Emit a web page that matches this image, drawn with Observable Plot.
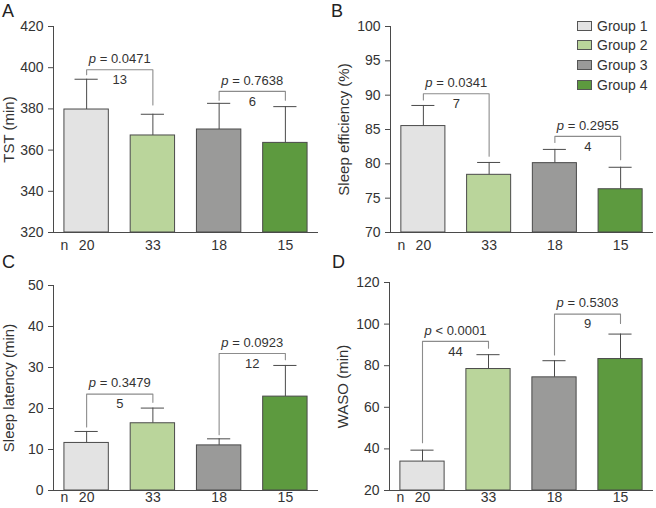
<!DOCTYPE html>
<html>
<head>
<meta charset="utf-8">
<script src="https://cdn.jsdelivr.net/npm/d3@7"></script>
<script src="https://cdn.jsdelivr.net/npm/@observablehq/plot@0.6"></script>
<style>
  html, body { margin: 0; padding: 0; background: #ffffff; }
  #chart { position: relative; width: 656px; height: 508px; font-family: "Liberation Sans", Arial, sans-serif; color: #333; overflow: hidden; }
  .panel { position: absolute; }
  .letter { position: absolute; font-size: 18px; line-height: 18px; color: #222; }
  .legend { position: absolute; left: 577px; top: 16px; font-size: 14px; color: #333; }
  .legend .row { display: flex; align-items: center; height: 19.6px; }
  .legend .sw { width: 15px; height: 10px; box-sizing: border-box; border: 1px solid #555; margin-right: 5px; }
</style>
</head>
<body>
<div id="chart"></div>
<script>
// ---- data ----
const groups = ["Group 1", "Group 2", "Group 3", "Group 4"];
const colors = ["#e3e3e3", "#bad59b", "#9a9a99", "#5d9a3f"];
const nValues = [20, 33, 18, 15];

// Panel A: TST (min)
const tstMean = [379.7, 367.1, 370.0, 363.5];
const tstUpper = [394.4, 377.4, 382.7, 381.1];
const tstTicks = [320, 340, 360, 380, 400, 420];
const tstPairs = [[0, 1], [2, 3]];
const tstBracketTop = [399.0, 388.5];
const tstBracketLeft = [396.6, 384.2];
const tstBracketRight = [381.9, 384.2];
const tstP = ["p = 0.0471", "p = 0.7638"];
const tstDiff = ["13", "6"];

// Panel B: Sleep efficiency (%)
const seMean = [85.5, 78.4, 80.1, 76.3];
const seUpper = [88.5, 80.2, 82.1, 79.5];
const seTicks = [70, 75, 80, 85, 90, 95, 100];
const sePairs = [[0, 1], [2, 3]];
const seBracketTop = [90.2, 84.0];
const seBracketLeft = [89.3, 83.1];
const seBracketRight = [81.1, 80.6];
const seP = ["p = 0.0341", "p = 0.2955"];
const seDiff = ["7", "4"];

// Panel C: Sleep latency (min)
const slMean = [11.6, 16.4, 11.0, 22.9];
const slUpper = [14.4, 20.1, 12.6, 30.5];
const slTicks = [0, 10, 20, 30, 40, 50];
const slPairs = [[0, 1], [2, 3]];
const slBracketTop = [23.5, 33.4];
const slBracketLeft = [15.5, 13.6];
const slBracketRight = [21.5, 31.9];
const slP = ["p = 0.3479", "p = 0.0923"];
const slDiff = ["5", "12"];

// Panel D: WASO (min)
const wasoMean = [33.9, 78.4, 74.4, 83.2];
const wasoUpper = [39.4, 85.3, 82.4, 95.2];
const wasoTicks = [20, 40, 60, 80, 100, 120];
const wasoPairs = [[0, 1], [2, 3]];
const wasoBracketTop = [91.7, 104.8];
const wasoBracketLeft = [43.0, 85.2];
const wasoBracketRight = [88.4, 100.3];
const wasoP = ["p < 0.0001", "p = 0.5303"];
const wasoDiff = ["44", "9"];

// ---- drawing ----
const chart = document.getElementById("chart");
const BAR_HALF = 0.335, CAP_HALF = 0.175;
const INK = "#4a4a4a", BRACKET = "#8c8c8c";

function makePanel(cfg) {
  const bars = groups.map((g, i) => ({ i, g, mean: cfg.mean[i], upper: cfg.upper[i] }));
  const br = cfg.pairs.map(([a, b], k) => ({
    a, b, top: cfg.top[k], left: cfg.left[k], right: cfg.right[k], p: cfg.p[k], d: cfg.diff[k]
  }));
  const brPts = br.flatMap((b, k) => [
    { k, x: b.a, y: b.left }, { k, x: b.a, y: b.top },
    { k, x: b.b, y: b.top }, { k, x: b.b, y: b.right }
  ]);
  const y0 = cfg.ticks[0];
  const svg = Plot.plot({
    width: cfg.width, height: cfg.height,
    marginLeft: cfg.ml, marginRight: cfg.mr, marginTop: cfg.mt, marginBottom: cfg.mb,
    style: { fontFamily: '"Liberation Sans", Arial, sans-serif', fontSize: "14px", color: "#333", background: "transparent", overflow: "visible" },
    x: { type: "linear", domain: [-0.5, 3.5], axis: null },
    y: { domain: [cfg.ticks[0], cfg.ticks[cfg.ticks.length - 1]], axis: null },
    color: { domain: groups, range: colors },
    marks: [
      Plot.ruleX(bars, { x: "i", y1: "mean", y2: "upper", stroke: INK }),
      Plot.ruleY(bars, { y: "upper", x1: d => d.i - CAP_HALF, x2: d => d.i + CAP_HALF, stroke: INK }),
      Plot.rectY(bars, { x1: d => d.i - BAR_HALF, x2: d => d.i + BAR_HALF, y1: y0, y2: "mean", fill: "g", stroke: INK, strokeWidth: 1 }),
      Plot.line(brPts, { x: "x", y: "y", z: "k", stroke: BRACKET, strokeWidth: 1.1 }),
      Plot.text(br, { x: d => (d.a + d.b) / 2, y: "top", text: "p", dy: -11, fontSize: 13, fill: "#333" }),
      Plot.text(br, { x: d => (d.a + d.b) / 2, y: "top", text: "d", dy: 10, fontSize: 13, fill: "#333" }),
      Plot.ruleX([-0.5], { stroke: INK }),
      Plot.ruleY([y0], { stroke: INK }),
      Plot.axisY({ ticks: cfg.ticks, tickSize: 5, tickPadding: 5, stroke: INK, fill: "#333",
        label: cfg.label, labelAnchor: "center", labelArrow: "none", labelOffset: cfg.labelOffset }),
      Plot.axisX({ ticks: [0, 1, 2, 3], tickFormat: i => String(nValues[i]), tickSize: 0, tickPadding: cfg.xpad, fill: "#333", label: null }),
      Plot.text(["n"], { frameAnchor: "bottom-left", dx: 7, dy: cfg.xpad, lineAnchor: "top", fill: "#333" })
    ]
  });
  d3.select(svg).selectAll("text").filter(function () {
    return /^p [=<]/.test(this.textContent);
  }).each(function () {
    const t = this.textContent;
    const sel = d3.select(this);
    sel.text(null);
    sel.append("tspan").attr("font-style", "italic").text("p");
    sel.append("tspan").text(t.slice(1));
  });
  d3.select(svg).selectAll('g[aria-label="y-axis label"]').attr("font-size", 15);
  const wrap = document.createElement("div");
  wrap.className = "panel";
  wrap.style.left = cfg.left0 + "px";
  wrap.style.top = cfg.top0 + "px";
  wrap.appendChild(svg);
  chart.appendChild(wrap);
  const letter = document.createElement("div");
  letter.className = "letter";
  letter.textContent = cfg.letter;
  letter.style.left = cfg.lx + "px";
  letter.style.top = cfg.ly + "px";
  chart.appendChild(letter);
}

makePanel({ letter: "A", lx: 2, ly: 2, left0: 0, top0: 0, width: 328, height: 254, ml: 53, mr: 10, mt: 26, mb: 22, xpad: 8,
  mean: tstMean, upper: tstUpper, ticks: tstTicks, pairs: tstPairs, top: tstBracketTop, left: tstBracketLeft,
  right: tstBracketRight, p: tstP, diff: tstDiff, label: "TST (min)", labelOffset: 50 });
makePanel({ letter: "B", lx: 331, ly: 2, left0: 328, top0: 0, width: 328, height: 254, ml: 62, mr: 3, mt: 26, mb: 22, xpad: 8,
  mean: seMean, upper: seUpper, ticks: seTicks, pairs: sePairs, top: seBracketTop, left: seBracketLeft,
  right: seBracketRight, p: seP, diff: seDiff, label: "Sleep efficiency (%)", labelOffset: 52 });
makePanel({ letter: "C", lx: 2, ly: 253, left0: 0, top0: 254, width: 328, height: 254, ml: 53, mr: 10, mt: 31, mb: 18, xpad: 2,
  mean: slMean, upper: slUpper, ticks: slTicks, pairs: slPairs, top: slBracketTop, left: slBracketLeft,
  right: slBracketRight, p: slP, diff: slDiff, label: "Sleep latency (min)", labelOffset: 50 });
makePanel({ letter: "D", lx: 332, ly: 253, left0: 328, top0: 254, width: 328, height: 254, ml: 61, mr: 3, mt: 28, mb: 18, xpad: 2,
  mean: wasoMean, upper: wasoUpper, ticks: wasoTicks, pairs: wasoPairs, top: wasoBracketTop, left: wasoBracketLeft,
  right: wasoBracketRight, p: wasoP, diff: wasoDiff, label: "WASO (min)", labelOffset: 52 });

// legend
const legend = document.createElement("div");
legend.className = "legend";
groups.forEach((g, i) => {
  const row = document.createElement("div");
  row.className = "row";
  const sw = document.createElement("div");
  sw.className = "sw";
  sw.style.background = colors[i];
  const tx = document.createElement("span");
  tx.textContent = g;
  row.appendChild(sw);
  row.appendChild(tx);
  legend.appendChild(row);
});
chart.appendChild(legend);
</script>
</body>
</html>
